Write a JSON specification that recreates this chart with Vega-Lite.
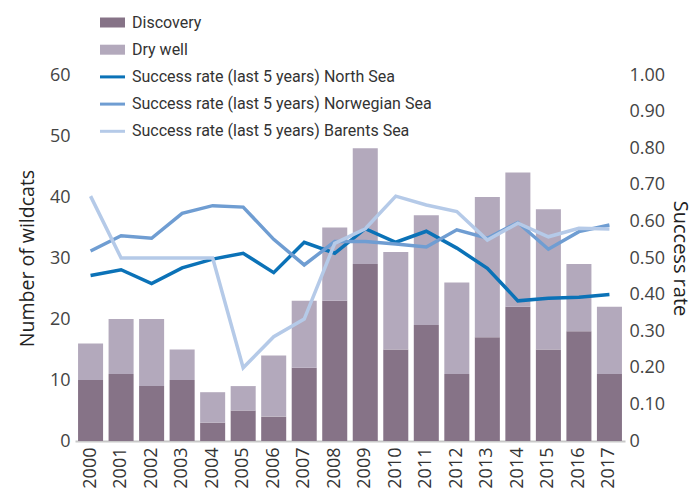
{
  "$schema": "https://vega.github.io/schema/vega-lite/v6.json",
  "width": 550,
  "height": 366,
  "autosize": {"type": "none"},
  "padding": {"left": 75, "top": 75, "right": 71, "bottom": 52},
  "background": "white",
  "config": {"view": {"stroke": null}, "font": "Open Sans"},
  "data": {
    "values": [
      {"year": "2000", "disc": 10, "dry": 6, "north": 0.452, "norw": 0.519, "barents": 0.669},
      {"year": "2001", "disc": 11, "dry": 9, "north": 0.468, "norw": 0.561, "barents": 0.5},
      {"year": "2002", "disc": 9, "dry": 11, "north": 0.43, "norw": 0.554, "barents": 0.5},
      {"year": "2003", "disc": 10, "dry": 5, "north": 0.473, "norw": 0.622, "barents": 0.5},
      {"year": "2004", "disc": 3, "dry": 5, "north": 0.497, "norw": 0.643, "barents": 0.5},
      {"year": "2005", "disc": 5, "dry": 4, "north": 0.513, "norw": 0.639, "barents": 0.2},
      {"year": "2006", "disc": 4, "dry": 10, "north": 0.46, "norw": 0.551, "barents": 0.285},
      {"year": "2007", "disc": 12, "dry": 11, "north": 0.543, "norw": 0.481, "barents": 0.333},
      {"year": "2008", "disc": 23, "dry": 12, "north": 0.513, "norw": 0.545, "barents": 0.54},
      {"year": "2009", "disc": 29, "dry": 19, "north": 0.58, "norw": 0.545, "barents": 0.58},
      {"year": "2010", "disc": 15, "dry": 16, "north": 0.543, "norw": 0.538, "barents": 0.669},
      {"year": "2011", "disc": 19, "dry": 18, "north": 0.573, "norw": 0.53, "barents": 0.645},
      {"year": "2012", "disc": 11, "dry": 15, "north": 0.527, "norw": 0.577, "barents": 0.627},
      {"year": "2013", "disc": 17, "dry": 23, "north": 0.472, "norw": 0.554, "barents": 0.549},
      {"year": "2014", "disc": 22, "dry": 22, "north": 0.383, "norw": 0.597, "barents": 0.595},
      {"year": "2015", "disc": 15, "dry": 23, "north": 0.39, "norw": 0.524, "barents": 0.558},
      {"year": "2016", "disc": 18, "dry": 11, "north": 0.393, "norw": 0.572, "barents": 0.581},
      {"year": "2017", "disc": 11, "dry": 11, "north": 0.4, "norw": 0.59, "barents": 0.579}
    ]
  },
  "layer": [
    {
      "transform": [{"fold": ["disc", "dry"], "as": ["series", "count"]}],
      "mark": {"type": "bar"},
      "encoding": {
        "x": {
          "field": "year",
          "type": "ordinal",
          "scale": {"paddingInner": 0.18, "paddingOuter": 0.1},
          "axis": {
            "title": null,
            "labelAngle": -90,
            "labelFontSize": 18,
            "labelColor": "#333",
            "labelPadding": 6,
            "ticks": false,
            "domainColor": "#c8c8c8",
            "domainWidth": 2
          }
        },
        "y": {
          "field": "count",
          "type": "quantitative",
          "stack": "zero",
          "scale": {"domain": [0, 60]},
          "axis": {
            "title": "Number of wildcats",
            "titleFontSize": 19.5,
            "titleFontWeight": "normal",
            "titleColor": "#222",
            "titlePadding": 12,
            "values": [0, 10, 20, 30, 40, 50, 60],
            "labelFontSize": 18,
            "labelColor": "#444",
            "labelPadding": 5,
            "ticks": false,
            "domain": false,
            "grid": false
          }
        },
        "color": {
          "field": "series",
          "type": "nominal",
          "scale": {
            "domain": ["disc", "dry", "north", "norw", "barents"],
            "range": ["#867387", "#b3a9bc", "#0b72b7", "#6f9dd2", "#b5cae8"]
          },
          "legend": {
            "title": null,
            "orient": "none",
            "legendX": 25,
            "legendY": -65,
            "labelFont": "Roboto",
            "labelFontSize": 16,
            "labelColor": "#333",
            "labelOffset": 7,
            "labelLimit": 0,
            "rowPadding": 6.2,
            "symbolSize": 625,
            "labelExpr": "datum.value == 'disc' ? 'Discovery' : datum.value == 'dry' ? 'Dry well' : datum.value == 'north' ? 'Success rate (last 5 years) North Sea' : datum.value == 'norw' ? 'Success rate (last 5 years) Norwegian Sea' : 'Success rate (last 5 years) Barents Sea'",
            "encode": {
              "symbols": {
                "update": {
                  "shape": {"signal": "(datum.value == 'disc' || datum.value == 'dry') ? 'M-1,-0.4H1V0.4H-1Z' : 'M-1,-0.12H1V0.12H-1Z'"},
                  "fill": {"scale": "color", "field": "value"},
                  "stroke": {"value": "transparent"},
                  "strokeWidth": {"value": 0},
                  "opacity": {"value": 1}
                }
              }
            }
          }
        },
        "order": {"field": "series", "sort": "ascending"}
      }
    },
    {
      "transform": [{"fold": ["north", "norw", "barents"], "as": ["series", "rate"]}],
      "mark": {"type": "line", "strokeWidth": 3.5},
      "encoding": {
        "x": {"field": "year", "type": "ordinal"},
        "y": {
          "field": "rate",
          "type": "quantitative",
          "scale": {"domain": [0, 1]},
          "axis": {
            "orient": "right",
            "title": "Success rate",
            "titleFontSize": 20,
            "titleFontWeight": "normal",
            "titleColor": "#222",
            "titlePadding": 5,
            "values": [0, 0.1, 0.2, 0.3, 0.4, 0.5, 0.6, 0.7, 0.8, 0.9, 1],
            "labelExpr": "datum.value == 0 ? '0' : format(datum.value, '.2f')",
            "labelFontSize": 18,
            "labelColor": "#444",
            "labelPadding": 4,
            "ticks": false,
            "domain": false,
            "grid": false
          }
        },
        "color": {"field": "series", "type": "nominal"}
      }
    }
  ],
  "resolve": {"scale": {"y": "independent"}}
}
